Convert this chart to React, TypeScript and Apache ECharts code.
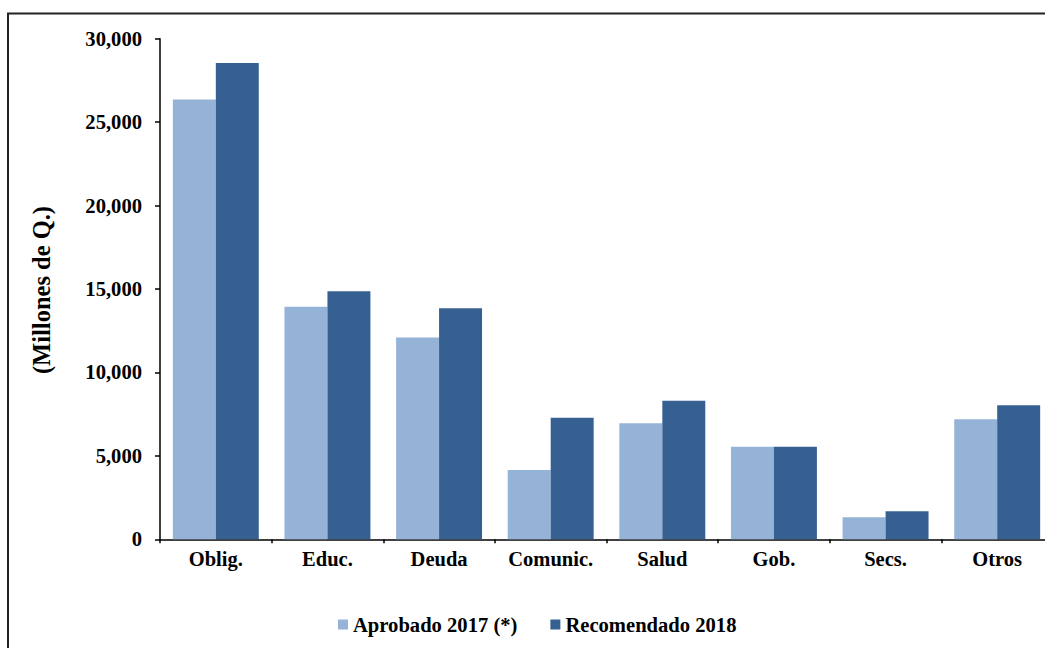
import React, { useEffect, useRef } from "react";
import * as echarts from "echarts";

const categories = ["Oblig.", "Educ.", "Deuda", "Comunic.", "Salud", "Gob.", "Secs.", "Otros"];
const aprobado2017 = [26350, 13940, 12100, 4150, 6950, 5550, 1320, 7200];
const recomendado2018 = [28550, 14860, 13840, 7290, 8300, 5550, 1680, 8030];
const seriesNames = ["Aprobado 2017 (*)", "Recomendado 2018"];
const yAxisTitle = "(Millones de Q.)";

const FONT = '"Liberation Serif", "Times New Roman", serif';

export default function App() {
  const ref = useRef<HTMLDivElement>(null);
  useEffect(() => {
    if (!ref.current) return;
    const chart = echarts.init(ref.current, null, { renderer: "svg" });
    chart.setOption({
      animation: false,
      backgroundColor: "#ffffff",
      textStyle: { fontFamily: FONT },
      grid: {
        left: 160,
        top: 38.7,
        bottom: 108.7,
        right: -8,
        outerBoundsMode: "none",
        containLabel: false,
      },
      legend: {
        data: seriesNames,
        left: 338,
        top: 614,
        padding: 0,
        itemWidth: 10,
        itemHeight: 10,
        itemGap: 33,
        icon: "rect",
        textStyle: {
          fontFamily: FONT,
          fontWeight: "bold",
          fontSize: 20.6,
          color: "#000",
        },
      },
      xAxis: {
        type: "category",
        data: categories,
        boundaryGap: true,
        axisLine: { show: true, lineStyle: { color: "#000", width: 1.5 } },
        axisTick: { show: true, length: 4, lineStyle: { color: "#000", width: 1.5 } },
        axisLabel: {
          fontFamily: FONT,
          fontWeight: "bold",
          fontSize: 20.5,
          color: "#000",
          margin: 9,
        },
        splitLine: { show: false },
      },
      yAxis: {
        type: "value",
        min: 0,
        max: 30000,
        interval: 5000,
        axisLine: { show: true, lineStyle: { color: "#000", width: 1.5 } },
        axisTick: { show: true, length: 5, lineStyle: { color: "#000", width: 1.5 } },
        axisLabel: {
          fontFamily: FONT,
          fontWeight: "bold",
          fontSize: 20.6,
          color: "#000",
          margin: 18,
          formatter: (v: number) => v.toLocaleString("en-US"),
        },
        splitLine: { show: false },
      },
      series: [
        {
          name: seriesNames[0],
          type: "bar",
          data: aprobado2017,
          barGap: "0%",
          barCategoryGap: "23%",
          itemStyle: { color: "#95B3D7" },
        },
        {
          name: seriesNames[1],
          type: "bar",
          data: recomendado2018,
          barGap: "0%",
          barCategoryGap: "23%",
          itemStyle: { color: "#366092" },
        },
      ],
      graphic: [
        {
          type: "rect",
          shape: { x: 8, y: 13.5, width: 1200, height: 800 },
          style: { fill: "none", stroke: "#222", lineWidth: 2 },
          silent: true,
        },
        {
          type: "text",
          x: 41,
          y: 290,
          rotation: Math.PI / 2,
          style: {
            text: yAxisTitle,
            fontFamily: FONT,
            fontWeight: "bold",
            fontSize: 24.5,
            fill: "#000",
            align: "center",
            verticalAlign: "middle",
          },
        },
      ],
    });
    return () => chart.dispose();
  }, []);
  return (
    <div
      ref={ref}
      style={{ position: "fixed", left: 0, top: 0, width: 1045, height: 648 }}
    />
  );
}
